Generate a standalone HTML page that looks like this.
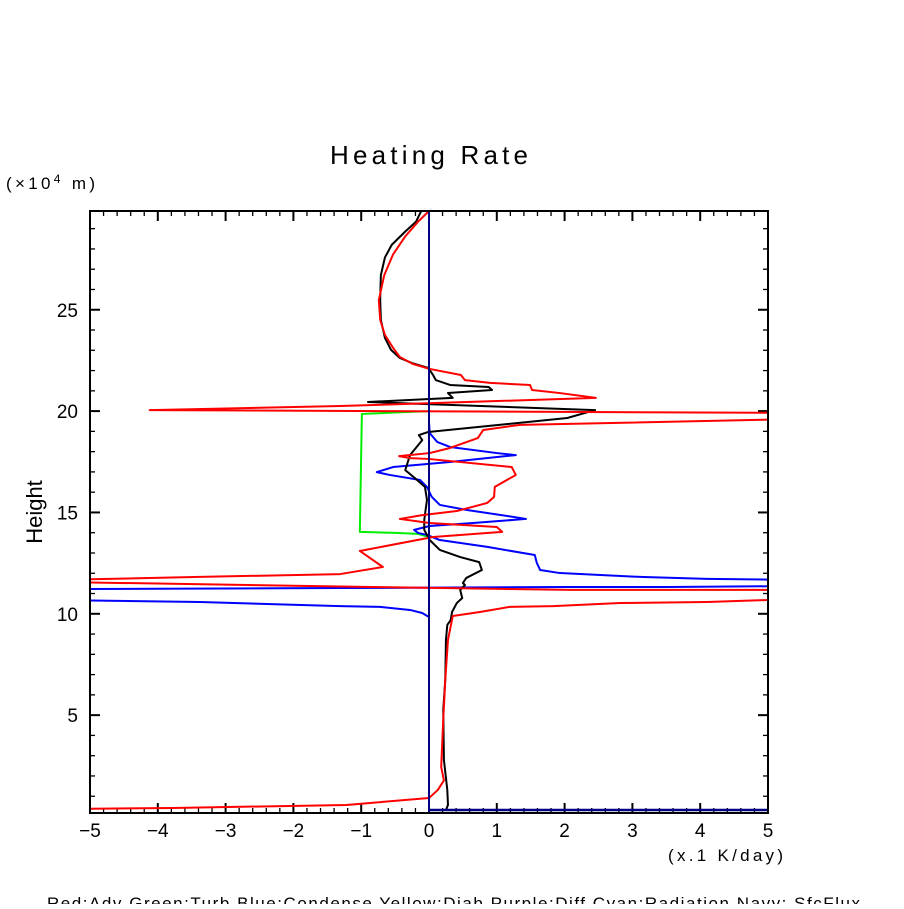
<!DOCTYPE html>
<html><head><meta charset="utf-8"><style>
html,body{margin:0;padding:0;background:#fff;overflow:hidden}
svg text{font-family:"Liberation Sans",sans-serif;fill:#000}
</style></head><body>
<svg id="chart" width="904" height="904" viewBox="0 0 904 904" xmlns="http://www.w3.org/2000/svg">
<defs><clipPath id="pc"><rect x="90" y="211" width="678" height="602"/></clipPath></defs>
<text x="429" y="164" font-size="26" text-anchor="middle" textLength="198" lengthAdjust="spacing">Heating Rate</text>
<text x="6" y="189" font-size="17" textLength="89" lengthAdjust="spacing">(×10<tspan font-size="12" dy="-6">4</tspan><tspan dy="6"> m)</tspan></text>
<text x="0" y="0" font-size="22" text-anchor="middle" transform="translate(42,512) rotate(-90)">Height</text>
<text x="668" y="861" font-size="17" textLength="115" lengthAdjust="spacing">(x.1 K/day)</text>
<text x="47" y="909" font-size="17" textLength="813" lengthAdjust="spacing">Red:Adv  Green:Turb  Blue:Condense  Yellow:Diab  Purple:Diff  Cyan:Radiation  Navy: SfcFlux</text>
<g id="axes"></g>
<g id="series" clip-path="url(#pc)"></g>
<rect x="90" y="211" width="678" height="602" fill="none" stroke="#000" stroke-width="2"/>
</svg>
<script>
const xTicks=[-5,-4,-3,-2,-1,0,1,2,3,4,5];
const yTicks=[5,10,15,20,25];
const xDomain=[-5,5], yDomain=[0.17,29.87];
const adv=[[-0.01,29.84],[-0.16,29.35],[-0.35,28.62],[-0.53,27.73],[-0.66,26.71],[-0.74,25.48],[-0.72,24.5],[-0.65,23.76],[-0.53,23.12],[-0.43,22.67],[-0.24,22.33],[0.01,22.08],[0.47,21.78],[0.53,21.53],[0.9,21.39],[1.49,21.29],[1.52,21.04],[1.93,20.89],[2.46,20.65],[-1.31,20.25],[-4.12,20.05],[5.47,19.91],[5.47,19.61],[1.34,19.32],[0.8,19.07],[0.72,18.67],[0.31,18.18],[0.01,17.93],[-0.44,17.78],[-0.28,17.68],[-0.01,17.64],[1.22,17.24],[1.28,16.85],[0.97,16.26],[0.96,15.77],[0.86,15.47],[0.41,15.07],[-0.1,14.87],[-0.43,14.68],[0.01,14.48],[1.0,14.28],[1.08,14.04],[0.06,13.79],[-1.02,13.1],[-0.68,12.31],[-1.31,11.96],[-3.38,11.82],[-5.44,11.67],[-5.44,11.57],[-0.84,11.32],[2.08,11.18],[5.47,11.18],[5.47,10.78],[5.0,10.68],[4.1,10.58],[2.82,10.53],[1.83,10.38],[1.19,10.34],[0.75,10.09],[0.35,9.89],[0.28,8.71],[0.24,6.74],[0.21,4.77],[0.18,2.44],[0.22,1.78],[0.13,1.31],[0.0,0.91],[-1.22,0.57],[-3.78,0.42],[-5.44,0.37]];
const turb=[[0.0,20.0],[-0.28,19.96],[-0.99,19.86],[-1.02,14.04],[-0.5,13.99],[-0.16,13.94],[0.0,13.79]];
const condense=[[0.0,19.46],[0.01,18.92],[0.12,18.48],[0.31,18.23],[1.0,17.93],[1.28,17.83],[0.31,17.49],[-0.53,17.24],[-0.77,16.99],[-0.58,16.85],[-0.13,16.6],[-0.03,16.26],[0.04,15.77],[0.16,15.37],[0.56,15.12],[1.24,14.78],[1.43,14.68],[0.65,14.48],[0.01,14.33],[-0.22,14.14],[-0.16,13.99],[-0.03,13.89],[0.16,13.64],[0.86,13.3],[1.56,12.9],[1.59,12.51],[1.64,12.16],[1.93,12.01],[3.11,11.82],[4.1,11.72],[5.47,11.67],[5.47,11.37],[3.51,11.32],[2.04,11.32],[-1.31,11.27],[-5.44,11.22],[-5.44,10.68],[-3.38,10.58],[-1.31,10.38],[-0.72,10.34],[-0.28,10.19],[-0.1,10.04],[0.0,9.84]];
const total=[[-0.12,29.84],[-0.19,29.35],[-0.35,28.86],[-0.55,28.2],[-0.65,27.58],[-0.71,26.71],[-0.72,25.48],[-0.71,24.5],[-0.65,23.61],[-0.56,23.02],[-0.43,22.62],[-0.25,22.37],[-0.01,22.13],[0.06,21.78],[0.1,21.53],[0.31,21.29],[0.88,21.19],[0.93,21.04],[0.28,20.89],[0.35,20.65],[-0.9,20.45],[2.45,20.05],[2.04,19.66],[-0.01,18.97],[-0.15,18.82],[-0.1,18.57],[-0.28,17.83],[-0.35,17.09],[-0.21,16.7],[-0.06,16.26],[-0.03,15.62],[-0.07,14.63],[-0.07,14.14],[-0.03,13.89],[0.01,13.64],[0.16,13.15],[0.46,12.8],[0.74,12.55],[0.78,12.16],[0.55,11.77],[0.5,11.52],[0.53,11.42],[0.46,11.18],[0.49,10.78],[0.41,10.53],[0.34,10.09],[0.32,9.69],[0.27,9.45],[0.25,8.71],[0.24,6.74],[0.21,5.26],[0.22,2.79],[0.27,1.31],[0.28,0.57],[0.25,0.32]];
const sfcFluxX=[0,5], sfcFluxH=0.32;
const NS="http://www.w3.org/2000/svg";
const L=90,R=768,T=211,B=813;
const sx=v=>429+(v)*67.8;
const sy=h=>816.5-h*20.27;
function mk(tag,attrs,parent){const e=document.createElementNS(NS,tag);for(const k in attrs)e.setAttribute(k,attrs[k]);parent.appendChild(e);return e;}
const axes=document.getElementById('axes'), ser=document.getElementById('series');
for(let v=-5;v<=5.001;v+=0.2){const major=Math.abs(v-Math.round(v))<1e-6;const len=major?10:5;const x=sx(v);
 const t1=mk('line',{x1:x,x2:x,y1:B,y2:B-len,stroke:'#000','stroke-width':major?2:1.3},axes);
 
 
 const t2=mk('line',{x1:x,x2:x,y1:T,y2:T+len,stroke:'#000','stroke-width':major?2:1.3},axes);
 
 }
xTicks.forEach(v=>{const t=mk('text',{x:sx(v),y:837,'font-size':19,'text-anchor':'middle'},axes);t.textContent=v<0?'\u2212'+(-v):String(v);
 
 });
for(let h=1;h<=29;h++){const major=h%5===0;const len=major?10:5;const y=sy(h);
 const a=mk('line',{x1:L,x2:L+len,y1:y,y2:y,stroke:'#000','stroke-width':major?2:1.3},axes);
 
 
 const b=mk('line',{x1:R,x2:R-len,y1:y,y2:y,stroke:'#000','stroke-width':major?2:1.3},axes);
 
 }
yTicks.forEach(h=>{const t=mk('text',{x:78,y:sy(h)+7,'font-size':19,'text-anchor':'end'},axes);t.textContent=String(h);
 
 });
function line(data,color,name){const p=mk('polyline',{points:data.map(d=>sx(d[0])+','+sy(d[1])).join(' '),fill:'none',stroke:color,'stroke-width':2,'stroke-linejoin':'round'},ser);
 
 }
line(turb,'#00ee00','turb-line');
line(condense,'#0000ff','condense-line');
line(total,'#000','total-line');
line(adv,'#ff0000','adv-line');
const nv=mk('line',{x1:sx(0),x2:sx(0),y1:sy(yDomain[1]),y2:sy(yDomain[0]),stroke:'#000080','stroke-width':2},ser);


const nh=mk('line',{x1:sx(sfcFluxX[0]),x2:sx(sfcFluxX[1]),y1:sy(sfcFluxH),y2:sy(sfcFluxH),stroke:'#000080','stroke-width':2.5},ser);


</script>
</body></html>
